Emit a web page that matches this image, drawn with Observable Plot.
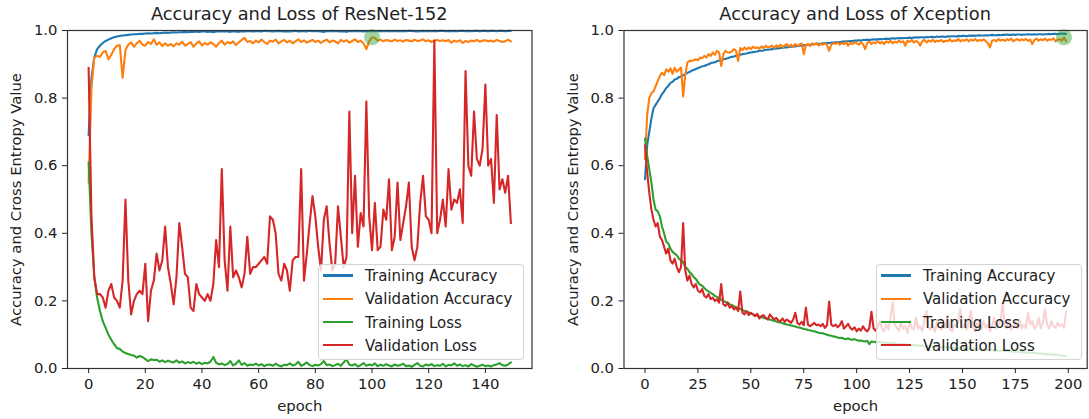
<!DOCTYPE html>
<html><head><meta charset="utf-8">
<script src="https://cdn.jsdelivr.net/npm/d3@7"></script>
<script src="https://cdn.jsdelivr.net/npm/@observablehq/plot@0.6"></script>
<style>
body{margin:0;background:#fff;font-family:"DejaVu Sans",sans-serif;}
#wrap{display:flex;width:1089px;height:419px;overflow:hidden;}
.panel{position:relative;flex:none;}
.title{height:24px;line-height:28px;font-size:17.8px;color:#222;text-align:center;white-space:nowrap;}
.legend{position:absolute;background:rgba(255,255,255,0.8);border:1px solid #d4d4d4;border-radius:4px;box-sizing:border-box;font-size:15px;color:#222;}
.legend .row{height:23.3px;line-height:23.3px;white-space:nowrap;}
.legend .sw{display:inline-block;width:30px;height:2.2px;vertical-align:middle;margin-left:4px;margin-right:12px;position:relative;top:-1px;}
svg{display:block;}
</style>
</head><body><div id="wrap"></div>
<script>
// ---------- data ----------
const seriesLabels = ["Training Accuracy","Validation Accuracy","Training Loss","Validation Loss"];
const yTicks = [0, 0.2, 0.4, 0.6, 0.8, 1.0];
const resnetEpochTicks = [0, 20, 40, 60, 80, 100, 120, 140];
const xceptionEpochTicks = [0, 25, 50, 75, 100, 125, 150, 175, 200];

const resnetTrainAcc = [0.69,0.86,0.92,0.945,0.955,0.963,0.969,0.973,0.977,0.98,0.982,0.984,0.985,0.986,0.987,0.988,0.989,0.989,0.99,0.99,
0.991,0.992,0.991,0.992,0.993,0.992,0.993,0.994,0.993,0.994,0.995,0.994,0.995,0.995,0.996,0.995,0.996,0.996,0.997,0.996,
0.997,0.997,0.996,0.997,0.995,0.997,0.998,0.997,0.998,0.997,0.996,0.998,0.997,0.996,0.998,0.997,0.998,0.998,0.997,0.998,
0.998,0.997,0.999,0.998,0.998,0.997,0.998,0.999,0.998,0.997,0.998,0.997,0.998,0.999,0.997,0.998,0.998,0.997,0.999,0.998,
0.998,0.998,0.997,0.996,0.998,0.998,0.999,0.998,0.998,0.997,0.998,0.996,0.998,0.998,0.999,0.998,0.998,0.997,0.998,0.998,
0.999,0.998,0.998,0.999,0.998,0.998,0.999,0.998,0.999,0.998,0.998,0.999,0.998,0.999,0.999,0.998,0.997,0.998,0.999,0.998,
0.999,0.998,0.999,0.998,0.999,0.999,0.998,0.999,0.998,0.999,0.998,0.999,0.999,0.998,0.999,0.998,0.999,0.999,0.998,0.999,
0.999,0.998,0.999,0.999,0.998,0.999,0.999,0.998,0.999,0.999];
const resnetValAcc = [0.55,0.83,0.92,0.925,0.922,0.935,0.94,0.915,0.928,0.945,
0.955,0.957,0.86,0.942,0.958,0.965,0.952,0.962,0.97,0.958,
0.955,0.966,0.96,0.974,0.958,0.965,0.954,0.962,0.955,0.96,
0.953,0.962,0.958,0.967,0.955,0.96,0.966,0.952,0.962,0.968,
0.956,0.963,0.958,0.965,0.96,0.952,0.963,0.97,0.958,0.966,
0.962,0.968,0.957,0.965,0.972,0.978,0.966,0.969,0.962,0.97,
0.965,0.973,0.966,0.96,0.97,0.967,0.973,0.962,0.968,0.972,
0.965,0.97,0.962,0.968,0.974,0.966,0.971,0.964,0.968,0.972,
0.966,0.97,0.963,0.969,0.973,0.965,0.97,0.968,0.962,0.972,
0.967,0.971,0.964,0.969,0.974,0.966,0.97,0.962,0.945,0.968,
0.98,0.978,0.97,0.973,0.968,0.972,0.97,0.968,0.973,0.969,
0.971,0.967,0.972,0.97,0.968,0.973,0.969,0.97,0.974,0.968,
0.971,0.966,0.97,0.972,0.969,0.971,0.968,0.972,0.964,0.97,
0.967,0.971,0.963,0.969,0.966,0.97,0.968,0.972,0.967,0.97,
0.971,0.968,0.97,0.967,0.972,0.969,0.966,0.968,0.973,0.968];
const resnetTrainLoss = [0.61,0.40,0.27,0.21,0.17,0.14,0.12,0.10,0.085,0.072,
0.06,0.058,0.05,0.046,0.043,0.04,0.038,0.032,0.037,0.034,
0.028,0.022,0.027,0.025,0.026,0.02,0.024,0.019,0.023,0.02,
0.018,0.024,0.017,0.021,0.015,0.019,0.016,0.02,0.014,0.018,
0.013,0.017,0.015,0.02,0.034,0.017,0.012,0.015,0.01,0.013,
0.022,0.009,0.014,0.024,0.011,0.016,0.008,0.012,0.01,0.014,
0.009,0.013,0.007,0.011,0.012,0.008,0.014,0.009,0.006,0.011,
0.01,0.015,0.009,0.012,0.02,0.008,0.012,0.018,0.01,0.007,
0.011,0.009,0.013,0.022,0.01,0.012,0.007,0.01,0.014,0.008,
0.018,0.027,0.011,0.009,0.013,0.006,0.01,0.016,0.008,0.012,
0.009,0.015,0.007,0.011,0.008,0.013,0.009,0.006,0.012,0.008,
0.01,0.014,0.007,0.009,0.005,0.011,0.016,0.008,0.006,0.012,
0.009,0.013,0.007,0.01,0.008,0.014,0.006,0.011,0.009,0.015,
0.008,0.012,0.007,0.01,0.006,0.013,0.009,0.005,0.008,0.011,
0.007,0.009,0.006,0.01,0.012,0.016,0.01,0.008,0.012,0.018];
const resnetValLoss = [0.89,0.45,0.27,0.22,0.22,0.21,0.18,0.23,0.25,0.21,
0.20,0.18,0.26,0.50,0.26,0.16,0.20,0.22,0.23,0.22,
0.31,0.14,0.23,0.26,0.34,0.29,0.32,0.42,0.30,0.25,
0.19,0.27,0.43,0.36,0.28,0.27,0.18,0.17,0.25,0.22,
0.21,0.20,0.22,0.20,0.25,0.38,0.30,0.59,0.32,0.23,
0.42,0.27,0.29,0.27,0.24,0.28,0.39,0.28,0.30,0.30,
0.31,0.32,0.33,0.31,0.45,0.44,0.40,0.28,0.26,0.31,
0.29,0.23,0.32,0.33,0.33,0.59,0.26,0.34,0.43,0.51,
0.45,0.36,0.29,0.44,0.48,0.37,0.29,0.31,0.48,0.39,
0.30,0.33,0.76,0.40,0.57,0.36,0.46,0.42,0.79,0.45,
0.35,0.49,0.35,0.36,0.47,0.44,0.56,0.35,0.39,0.55,
0.38,0.43,0.48,0.55,0.36,0.32,0.36,0.49,0.57,0.45,
0.44,0.40,0.97,0.40,0.44,0.50,0.42,0.59,0.47,0.50,
0.49,0.53,0.43,0.88,0.60,0.57,0.76,0.62,0.60,0.65,
0.84,0.60,0.62,0.49,0.75,0.53,0.56,0.52,0.57,0.43];

const xceptionTrainAcc = [0.56,0.66,0.70,0.74,0.77,0.78,0.79,0.80,0.812,0.82,
0.83,0.836,0.845,0.848,0.855,0.857,0.862,0.864,0.868,0.871,
0.875,0.877,0.881,0.883,0.886,0.889,0.891,0.894,0.895,0.898,
0.90,0.903,0.905,0.906,0.909,0.911,0.913,0.915,0.916,0.918,
0.92,0.922,0.923,0.925,0.927,0.928,0.93,0.931,0.932,0.934,
0.935,0.936,0.937,0.938,0.94,0.94,0.941,0.943,0.943,0.944,
0.945,0.946,0.947,0.947,0.948,0.949,0.95,0.95,0.951,0.952,
0.953,0.953,0.954,0.955,0.955,0.956,0.957,0.957,0.958,0.959,
0.96,0.96,0.961,0.961,0.962,0.962,0.963,0.963,0.964,0.964,
0.965,0.966,0.965,0.967,0.967,0.968,0.968,0.969,0.969,0.97,
0.97,0.971,0.97,0.972,0.972,0.973,0.972,0.973,0.974,0.973,
0.974,0.975,0.974,0.975,0.976,0.975,0.976,0.977,0.976,0.977,
0.977,0.978,0.977,0.978,0.978,0.979,0.978,0.979,0.98,0.979,
0.98,0.98,0.979,0.981,0.98,0.981,0.981,0.98,0.982,0.981,
0.982,0.982,0.981,0.983,0.982,0.983,0.983,0.982,0.984,0.983,
0.984,0.984,0.983,0.985,0.984,0.985,0.984,0.985,0.986,0.985,
0.985,0.986,0.985,0.986,0.987,0.986,0.986,0.987,0.986,0.987,
0.987,0.988,0.987,0.987,0.988,0.987,0.988,0.988,0.987,0.988,
0.988,0.989,0.988,0.988,0.989,0.988,0.989,0.989,0.988,0.989,
0.989,0.99,0.989,0.99,0.99,0.989,0.99,0.991,0.99,0.99];
const xceptionValAcc = [0.62,0.75,0.80,0.815,0.82,0.835,0.85,0.866,0.875,0.868,
0.885,0.878,0.888,0.872,0.89,0.878,0.885,0.89,0.805,0.87,
0.905,0.91,0.91,0.912,0.915,0.912,0.92,0.918,0.925,0.92,
0.93,0.925,0.935,0.928,0.94,0.935,0.895,0.93,0.94,0.935,
0.935,0.938,0.945,0.94,0.91,0.948,0.942,0.95,0.944,0.95,
0.945,0.952,0.948,0.95,0.946,0.953,0.948,0.955,0.95,0.952,
0.955,0.948,0.956,0.952,0.958,0.95,0.956,0.96,0.953,0.958,
0.952,0.96,0.955,0.958,0.962,0.93,0.957,0.96,0.954,0.962,
0.958,0.963,0.955,0.96,0.958,0.962,0.957,0.94,0.958,0.962,
0.96,0.965,0.958,0.963,0.96,0.966,0.955,0.963,0.96,0.966,
0.962,0.958,0.965,0.96,0.945,0.963,0.967,0.96,0.965,0.962,
0.968,0.962,0.966,0.96,0.968,0.964,0.97,0.962,0.967,0.964,
0.97,0.965,0.968,0.955,0.97,0.966,0.972,0.964,0.969,0.966,
0.955,0.968,0.972,0.965,0.97,0.967,0.973,0.966,0.97,0.968,
0.972,0.966,0.97,0.968,0.974,0.967,0.971,0.969,0.975,0.968,
0.972,0.97,0.974,0.968,0.973,0.97,0.975,0.969,0.972,0.97,
0.974,0.968,0.962,0.95,0.97,0.972,0.968,0.975,0.97,0.973,
0.969,0.974,0.971,0.976,0.968,0.972,0.975,0.97,0.974,0.971,
0.975,0.969,0.973,0.96,0.972,0.976,0.97,0.974,0.971,0.976,
0.97,0.974,0.972,0.977,0.968,0.973,0.975,0.97,0.98,0.968];
const xceptionTrainLoss = [0.68,0.63,0.59,0.55,0.50,0.47,0.465,0.45,0.42,0.40,
0.375,0.37,0.355,0.345,0.34,0.335,0.325,0.32,0.315,0.30,
0.295,0.285,0.28,0.27,0.265,0.255,0.248,0.245,0.238,0.232,
0.228,0.224,0.22,0.215,0.212,0.208,0.203,0.2,0.197,0.195,
0.19,0.188,0.184,0.181,0.179,0.176,0.173,0.17,0.168,0.166,
0.163,0.16,0.158,0.156,0.154,0.152,0.15,0.148,0.146,0.145,
0.143,0.141,0.139,0.137,0.136,0.134,0.132,0.13,0.129,0.127,
0.126,0.124,0.122,0.121,0.119,0.117,0.116,0.114,0.113,0.111,
0.11,0.108,0.106,0.105,0.104,0.102,0.1,0.098,0.097,0.095,
0.094,0.092,0.09,0.091,0.088,0.087,0.089,0.086,0.085,0.087,
0.084,0.082,0.083,0.081,0.08,0.082,0.072,0.08,0.079,0.078,
0.078,0.079,0.077,0.076,0.077,0.075,0.076,0.074,0.075,0.073,
0.072,0.073,0.071,0.072,0.07,0.071,0.069,0.07,0.068,0.069,
0.067,0.068,0.066,0.067,0.065,0.066,0.064,0.065,0.064,0.063,
0.063,0.064,0.062,0.063,0.061,0.062,0.06,0.061,0.06,0.059,
0.059,0.06,0.058,0.059,0.057,0.058,0.057,0.056,0.057,0.055,
0.056,0.055,0.056,0.054,0.055,0.053,0.054,0.052,0.053,0.052,
0.052,0.051,0.052,0.05,0.051,0.049,0.05,0.048,0.049,0.047,
0.047,0.048,0.046,0.047,0.045,0.046,0.044,0.045,0.043,0.044,
0.042,0.043,0.041,0.042,0.04,0.041,0.039,0.038,0.037,0.036];
const xceptionValLoss = [0.66,0.58,0.52,0.47,0.44,0.42,0.43,0.39,0.38,0.36,
0.34,0.355,0.32,0.31,0.325,0.30,0.285,0.30,0.43,0.29,
0.26,0.275,0.25,0.24,0.25,0.23,0.225,0.235,0.215,0.21,
0.22,0.205,0.21,0.2,0.205,0.195,0.25,0.19,0.185,0.195,
0.18,0.185,0.175,0.18,0.17,0.228,0.165,0.16,0.17,0.158,
0.165,0.16,0.155,0.162,0.148,0.155,0.158,0.15,0.145,0.16,
0.152,0.145,0.15,0.142,0.14,0.148,0.138,0.145,0.14,0.135,
0.145,0.165,0.135,0.13,0.138,0.128,0.18,0.13,0.125,0.13,
0.135,0.128,0.13,0.125,0.132,0.12,0.128,0.198,0.13,0.125,
0.13,0.122,0.128,0.14,0.118,0.125,0.132,0.12,0.115,0.122,
0.11,0.118,0.112,0.125,0.115,0.11,0.12,0.168,0.118,0.112,
0.125,0.14,0.118,0.11,0.13,0.115,0.15,0.195,0.13,0.12,
0.112,0.135,0.118,0.125,0.105,0.14,0.12,0.115,0.15,0.118,
0.125,0.11,0.14,0.17,0.12,0.115,0.13,0.108,0.14,0.122,
0.115,0.135,0.12,0.155,0.118,0.11,0.13,0.125,0.14,0.175,
0.12,0.13,0.115,0.145,0.17,0.12,0.11,0.135,0.125,0.115,
0.14,0.12,0.13,0.11,0.125,0.15,0.118,0.13,0.14,0.195,
0.13,0.12,0.14,0.115,0.125,0.135,0.12,0.145,0.118,0.13,
0.12,0.165,0.13,0.14,0.118,0.125,0.15,0.12,0.135,0.175,
0.13,0.118,0.14,0.125,0.12,0.135,0.125,0.13,0.12,0.17];

// ---------- drawing ----------
const colors = ["#1f77b4", "#ff7f0e", "#2ca02c", "#d62728"];

function panel({title, series, xTicks, width, marginLeft, marginRight, legendLeft}) {
  const div = document.createElement("div");
  div.className = "panel";
  div.style.width = width + "px";
  const t = document.createElement("div");
  t.className = "title";
  t.style.paddingLeft = marginLeft + "px";
  t.style.paddingRight = marginRight + "px";
  t.textContent = title;
  div.appendChild(t);

  const n = series[0].length;
  const pad = (n - 1) * 0.05;
  const valAcc = series[1];
  const bi = d3.maxIndex(valAcc);

  const chart = Plot.plot({
    width, height: 395,
    marginTop: 6, marginBottom: 51, marginLeft, marginRight,
    style: {fontFamily: "DejaVu Sans", fontSize: "14.8px", color: "#222", background: "transparent", overflow: "visible"},
    x: {domain: [-pad, n - 1 + pad]},
    y: {domain: [0, 1]},
    marks: [
      ...series.map((s, k) => Plot.lineY(s, {x: (d, i) => i, y: d => d, stroke: colors[k], strokeWidth: 2.1})),
      Plot.dot([bi], {x: i => i, y: i => valAcc[i], r: 8, fill: "#2ca02c", fillOpacity: 0.45}),
      Plot.frame({stroke: "#333", strokeWidth: 1.2}),
      Plot.axisX({ticks: xTicks, tickSize: 5, tickPadding: 5, label: "epoch", labelAnchor: "center", labelArrow: "none", labelOffset: 42}),
      Plot.axisY({ticks: yTicks, tickFormat: d3.format(".1f"), tickSize: 5, tickPadding: 5,
        label: "Accuracy and Cross Entropy Value", labelAnchor: "center", labelArrow: "none", labelOffset: 57})
    ]
  });
  div.appendChild(chart);

  const lg = document.createElement("div");
  lg.className = "legend";
  lg.style.left = legendLeft + "px";
  lg.style.top = "264px";
  lg.style.width = "206px";
  lg.style.height = "96px";
  seriesLabels.forEach((name, k) => {
    const row = document.createElement("div");
    row.className = "row";
    const sw = document.createElement("span");
    sw.className = "sw";
    sw.style.background = colors[k];
    row.appendChild(sw);
    row.appendChild(document.createTextNode(name));
    lg.appendChild(row);
  });
  div.appendChild(lg);
  return div;
}

const wrap = document.getElementById("wrap");
wrap.appendChild(panel({
  title: "Accuracy and Loss of ResNet-152",
  series: [resnetTrainAcc, resnetValAcc, resnetTrainLoss, resnetValLoss],
  xTicks: resnetEpochTicks, width: 545, marginLeft: 67, marginRight: 13.5, legendLeft: 318
}));
wrap.appendChild(panel({
  title: "Accuracy and Loss of Xception",
  series: [xceptionTrainAcc, xceptionValAcc, xceptionTrainLoss, xceptionValLoss],
  xTicks: xceptionEpochTicks, width: 544, marginLeft: 78.5, marginRight: 2.3, legendLeft: 331
}));
</script>
</body></html>
